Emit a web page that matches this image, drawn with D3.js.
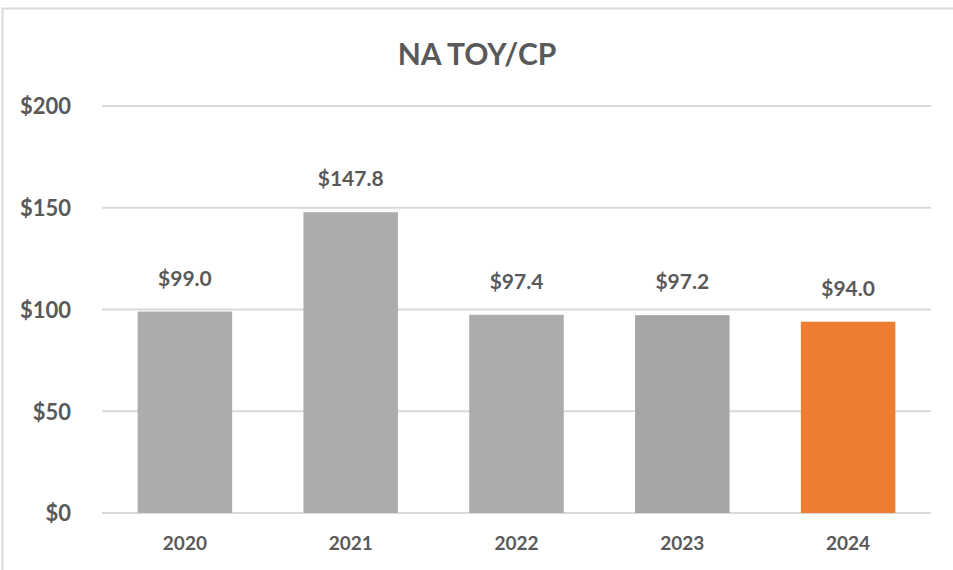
<!DOCTYPE html>
<html>
<head>
<meta charset="utf-8">
<script src="https://cdn.jsdelivr.net/npm/d3@7"></script>
<style>
  body { margin: 0; background: #fff; }
  svg text { font-family: Lato, "Open Sans", sans-serif; font-weight: bold; fill: #595959; }
</style>
</head>
<body>
<svg width="953" height="570"></svg>
<script>
const years = ['2020', '2021', '2022', '2023', '2024'];
const values = [99.0, 147.8, 97.4, 97.2, 94.0];
const barColors = ['#aeabab', '#aeabab', '#aeabab', '#a5a5a5', '#ed7d31'];
const yTicks = [0, 50, 100, 150, 200];

const svg = d3.select('svg');

// chart frame
svg.append('path')
    .attr('d', 'M2.5,570 L2.5,8.5 L953,8.5')
    .attr('fill', 'none')
    .attr('stroke', '#d9d9d9')
    .attr('stroke-width', 2);

const margin = { top: 106, bottom: 57, left: 102, right: 22 };
const width = 953 - margin.left - margin.right;
const height = 570 - margin.top - margin.bottom;

const chart = svg.append('g')
    .attr('transform', `translate(${margin.left},${margin.top})`);

const xScale = d3.scaleBand()
    .domain(years)
    .range([0, width])
    .paddingInner(0.43)
    .paddingOuter(0.215);

const yScale = d3.scaleLinear()
    .domain([0, 200])
    .range([height, 0]);

// gridlines
chart.append('g')
    .selectAll('line')
    .data(yTicks)
    .enter()
    .append('line')
    .attr('x1', 0)
    .attr('x2', width)
    .attr('y1', d => yScale(d))
    .attr('y2', d => yScale(d))
    .attr('stroke', '#d9d9d9')
    .attr('stroke-width', 2);

// y axis labels
const yAxis = chart.append('g')
    .call(d3.axisLeft(yScale).tickValues(yTicks).tickFormat(d => '$' + d).tickSize(0).tickPadding(31));
yAxis.select('.domain').remove();
yAxis.selectAll('text')
    .style('font-size', '22px')
    .attr('dy', '0.36em');

// bars
chart.append('g')
    .selectAll('rect')
    .data(values)
    .enter()
    .append('rect')
    .attr('x', (d, i) => xScale(years[i]))
    .attr('width', xScale.bandwidth())
    .attr('y', d => yScale(d))
    .attr('height', d => height - yScale(d))
    .attr('fill', (d, i) => barColors[i]);

// value labels
chart.append('g')
    .selectAll('text')
    .data(values)
    .enter()
    .append('text')
    .attr('x', (d, i) => xScale(years[i]) + xScale.bandwidth() / 2)
    .attr('y', d => yScale(d) - 26)
    .attr('text-anchor', 'middle')
    .style('font-size', '21px')
    .text(d => '$' + d.toFixed(1));

// x axis labels
const xAxis = chart.append('g')
    .attr('transform', `translate(0,${height})`)
    .call(d3.axisBottom(xScale).tickSize(0).tickPadding(24));
xAxis.select('.domain').remove();
xAxis.selectAll('text')
    .style('font-size', '19px')
    .attr('dy', '0.71em');

// title
svg.append('text')
    .attr('x', 477)
    .attr('y', 65)
    .attr('text-anchor', 'middle')
    .style('font-size', '30px')
    .text('NA TOY/CP');
</script>
</body>
</html>
